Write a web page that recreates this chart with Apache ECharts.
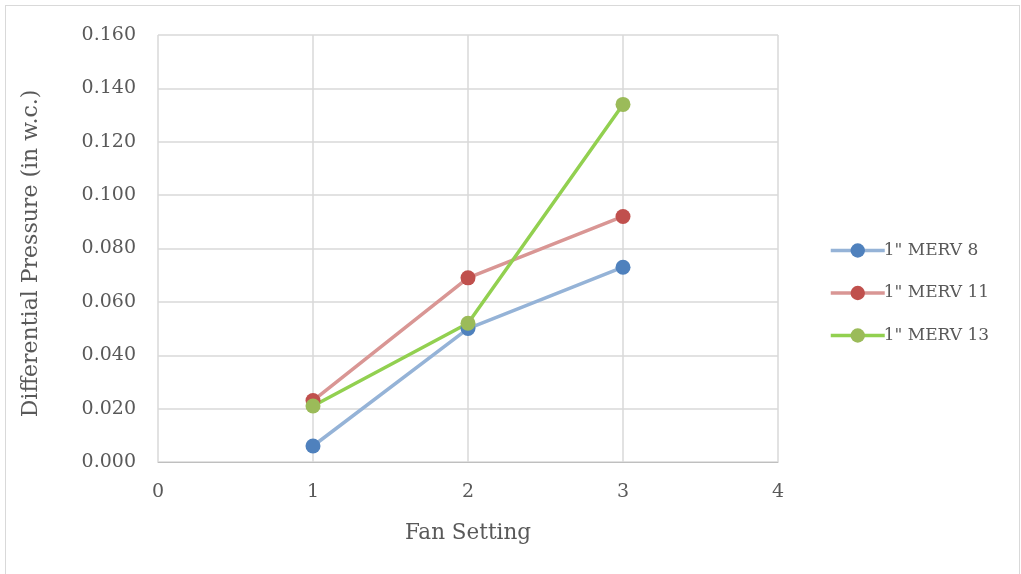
<!DOCTYPE html>
<html><head><meta charset="utf-8">
<script src="https://cdn.jsdelivr.net/npm/echarts@6/dist/echarts.min.js"></script>
<style>html,body{margin:0;padding:0;background:#fff}#c{width:1021px;height:574px}
#frame{position:absolute;left:5px;top:5px;width:1013px;height:580px;border:1px solid #d9d9d9;pointer-events:none}</style>
</head><body><div id="c"></div><div id="frame"></div>
<script>
const seriesNames = ['1" MERV 8', '1" MERV 11', '1" MERV 13'];
const fanSettings = [1, 2, 3];
const merv8 = [0.006, 0.050, 0.073];
const merv11 = [0.023, 0.069, 0.092];
const merv13 = [0.021, 0.052, 0.134];
const lineColors = ['#95b3d7', '#d99694', '#92d050'];
const markerColors = ['#4f81bd', '#c0504d', '#9bbb59'];
const font = 'DejaVu Serif';
const all = [merv8, merv11, merv13];
const chart = echarts.init(document.getElementById('c'));
chart.setOption({
  animation: false,
  textStyle: {fontFamily: font},
  grid: {left: 158, right: 243, top: 35, bottom: 112},
  legend: {
    orient: 'vertical', left: 824, top: 237, itemGap: 25.5,
    itemWidth: 54, itemHeight: 18,
    lineStyle: {width: 3.5},
    textStyle: {fontFamily: font, fontSize: 17, color: '#595959', padding: [0,0,0,-6]},
    data: seriesNames
  },
  xAxis: {
    type: 'value', min: 0, max: 4, interval: 1,
    name: 'Fan Setting', nameLocation: 'middle', nameGap: 60,
    nameTextStyle: {fontFamily: font, fontSize: 21.5, color: '#595959'},
    axisLine: {show: true, lineStyle: {color: '#bfbfbf', width: 1}},
    axisTick: {show: false},
    axisLabel: {fontFamily: font, fontSize: 19, color: '#595959', margin: 21},
    splitLine: {show: true, lineStyle: {color: '#d9d9d9', width: 1.5}}
  },
  yAxis: {
    type: 'value', min: 0, max: 0.16, interval: 0.02,
    name: 'Differential Pressure (in w.c.)', nameLocation: 'middle', nameGap: 116,
    nameTextStyle: {fontFamily: font, fontSize: 22, color: '#595959', padding: [0, 10, 0, 0]},
    axisLine: {show: false},
    axisTick: {show: false},
    axisLabel: {fontFamily: font, fontSize: 19, color: '#595959', margin: 22,
      formatter: v => v.toFixed(3)},
    splitLine: {show: true, lineStyle: {color: '#d9d9d9', width: 1.5}}
  },
  series: all.map((d,i)=>({
    name: seriesNames[i], type: 'line',
    data: fanSettings.map((x,j)=>[x, d[j]]),
    symbol: 'circle', symbolSize: 15,
    lineStyle: {color: lineColors[i], width: 3.5},
    itemStyle: {color: markerColors[i]},
    color: markerColors[i]
  }))
});
</script></body></html>
